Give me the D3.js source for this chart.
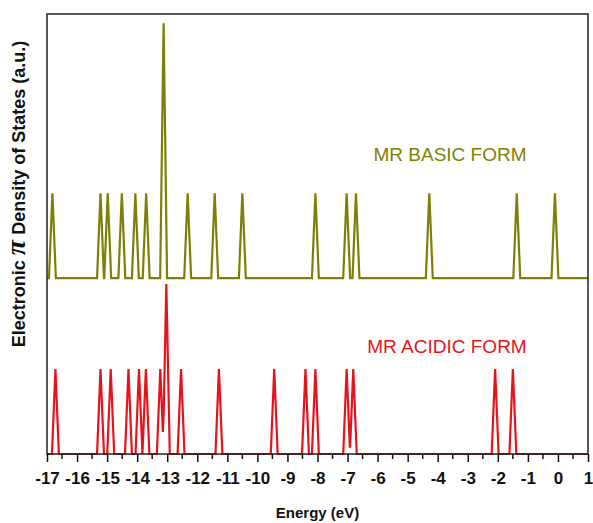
<!DOCTYPE html>
<html>
<head>
<meta charset="utf-8">
<script src="https://cdn.jsdelivr.net/npm/d3@7"></script>
<style>
    html, body { margin: 0; padding: 0; background: #fff; }
    svg { display: block; font-family: "Liberation Sans", Arial, sans-serif; }
</style>
</head>
<body>
<svg id="chart"></svg>
<script>
// --- DATA ---
// peak energies (eV), with their degeneracy
const basicEnergies = [-16.82, -15.22, -14.98, -14.51, -14.06, -13.70, -13.12, -12.32, -11.42, -10.50,
    -8.07, -7.03, -6.72, -4.28, -1.37, -0.10];
const basicDegeneracy = [1, 1, 1, 1, 1, 1, 3, 1, 1, 1, 1, 1, 1, 1, 1, 1];

const acidicEnergies = [-16.72, -15.22, -14.88, -14.29, -13.94, -13.71, -13.23, -13.03, -12.54, -11.28,
    -9.44, -8.40, -8.07, -7.03, -6.81, -2.09, -1.50];
const acidicDegeneracy = [1, 1, 1, 1, 1, 1, 1, 2, 1, 1, 1, 1, 1, 1, 1, 1, 1];

const xTicks = d3.range(-17, 2, 1);
const seriesLabels = ['MR BASIC FORM', 'MR ACIDIC FORM'];

// --- SETUP ---
const width = 593;
const height = 523;
const margin = { top: 14, right: 5, bottom: 69, left: 47 };

const svg = d3.select('#chart')
    .attr('width', width)
    .attr('height', height);

const x = d3.scaleLinear()
    .domain([-17, 1])
    .range([margin.left, width - margin.right]);

// one unit = one state; basic curve is stacked above the acidic one
const y = d3.scaleLinear()
    .domain([0, 5.18])
    .range([height - margin.bottom, margin.top]);

const basicOffset = 2.07;
const halfWidth = 0.115;

// sum of triangular peaks, evaluated at every breakpoint
function spectrum(energies, degeneracy, offset) {
    const pts = new Set([-17, 1]);
    energies.forEach(e => { pts.add(e - halfWidth); pts.add(e); pts.add(e + halfWidth); });
    const xs = [...pts].sort((a, b) => a - b);
    return xs.map(v => {
        let s = 0;
        energies.forEach((e, i) => {
            const d = Math.abs(v - e);
            if (d < halfWidth) s += degeneracy[i] * (1 - d / halfWidth);
        });
        return [v, s + offset];
    });
}

const line = d3.line()
    .x(d => x(d[0]))
    .y(d => y(d[1]));

// --- CURVES ---
svg.append('path')
    .datum(spectrum(basicEnergies, basicDegeneracy, basicOffset))
    .attr('fill', 'none')
    .attr('stroke', '#7f7f08')
    .attr('stroke-width', 2.2)
    .attr('d', line);

svg.append('path')
    .datum(spectrum(acidicEnergies, acidicDegeneracy, 0))
    .attr('fill', 'none')
    .attr('stroke', '#e5141c')
    .attr('stroke-width', 2.2)
    .attr('d', line);

// --- FRAME ---
svg.append('rect')
    .attr('x', x(-17))
    .attr('y', y(5.18))
    .attr('width', x(1) - x(-17))
    .attr('height', y(0) - y(5.18))
    .attr('fill', 'none')
    .attr('stroke', '#222')
    .attr('stroke-width', 1.5);

// --- X AXIS ---
const xAxis = svg.append('g')
    .attr('transform', `translate(0,${y(0)})`)
    .call(d3.axisBottom(x).tickValues(xTicks).tickSize(8).tickPadding(10).tickFormat(d => String(d)));
xAxis.select('.domain').remove();
xAxis.selectAll('.tick line').attr('stroke', '#111').attr('stroke-width', 1.5);
xAxis.selectAll('.tick text')
    .attr('fill', '#111')
    .style('font-size', '17px')
    .style('font-weight', 'bold')
    .style('font-family', '"Liberation Sans", Arial, sans-serif');

// minor ticks at half units
svg.append('g')
    .selectAll('line')
    .data(d3.range(-16.5, 1, 1))
    .enter().append('line')
    .attr('x1', d => x(d))
    .attr('x2', d => x(d))
    .attr('y1', y(0))
    .attr('y2', y(0) + 5)
    .attr('stroke', '#111')
    .attr('stroke-width', 1.5);

svg.append('text')
    .attr('x', (x(-17) + x(1)) / 2)
    .attr('y', 518)
    .attr('text-anchor', 'middle')
    .style('font-size', '15px')
    .style('font-weight', 'bold')
    .attr('fill', '#111')
    .text('Energy (eV)');

// --- Y LABEL ---
const yLabel = svg.append('text')
    .attr('transform', 'translate(25,194) rotate(-90)')
    .attr('text-anchor', 'middle')
    .style('font-size', '18px')
    .style('font-weight', 'bold')
    .attr('fill', '#111');
yLabel.append('tspan').text('Electronic ');
yLabel.append('tspan')
    .style('font-family', '"Liberation Serif", serif')
    .style('font-style', 'italic')
    .style('font-size', '28px')
    .text('π');
yLabel.append('tspan').text(' Density of States (a.u.)');

// --- SERIES LABELS ---
svg.append('text')
    .attr('x', 450)
    .attr('y', y(basicOffset + 1.38))
    .attr('text-anchor', 'middle')
    .style('font-size', '19px')
    .attr('fill', '#7f7f08')
    .text(seriesLabels[0]);

svg.append('text')
    .attr('x', 447)
    .attr('y', y(1.19))
    .attr('text-anchor', 'middle')
    .style('font-size', '19px')
    .attr('fill', '#e5141c')
    .text(seriesLabels[1]);
</script>
</body>
</html>
